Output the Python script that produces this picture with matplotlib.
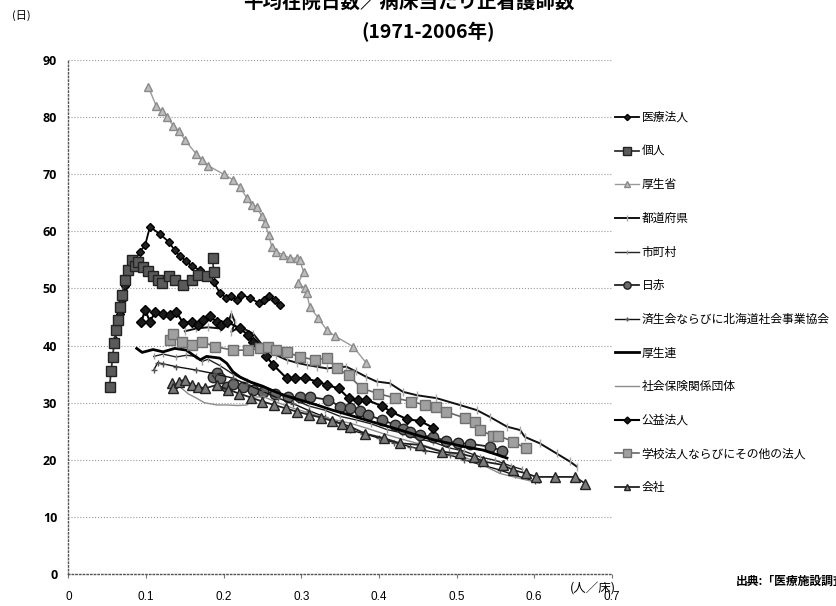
import matplotlib
matplotlib.use("Agg")
import matplotlib.pyplot as plt
from matplotlib.ticker import MultipleLocator

plt.rcParams['font.family'] = ['Noto Sans CJK JP', 'DejaVu Sans']

# ---------------- data (nurses per bed, average length of stay in days) ----------------
labels = ['医療法人', '個人', '厚生省', '都道府県', '市町村', '日赤',
          '済生会ならびに北海道社会事業協会', '厚生連', '社会保険関係団体',
          '公益法人', '学校法人ならびにその他の法人', '会社']

iryo_x = [0.060, 0.063, 0.066, 0.069, 0.073, 0.077, 0.084, 0.092, 0.099, 0.105, 0.118, 0.129,
          0.137, 0.144, 0.152, 0.159, 0.170, 0.180, 0.187, 0.195, 0.203, 0.210, 0.217, 0.223,
          0.234, 0.245, 0.252, 0.258, 0.266, 0.273]
iryo_y = [41.0, 43.5, 45.5, 48.0, 50.5, 52.7, 54.4, 56.4, 57.6, 60.8, 59.5, 58.2,
          56.7, 55.6, 54.8, 53.9, 53.2, 52.3, 51.2, 49.2, 48.4, 48.6, 48.0, 48.9,
          48.3, 47.5, 48.0, 48.6, 47.9, 47.1]

kojin_x = [0.053, 0.055, 0.057, 0.059, 0.061, 0.064, 0.066, 0.069, 0.073, 0.077, 0.082, 0.086,
           0.090, 0.096, 0.103, 0.109, 0.115, 0.120, 0.129, 0.137, 0.148, 0.159, 0.167, 0.178,
           0.187, 0.186]
kojin_y = [32.8, 35.5, 38.0, 40.5, 42.7, 44.5, 46.8, 48.9, 51.5, 53.2, 55.0, 54.0,
           54.7, 53.8, 53.0, 52.1, 51.5, 50.9, 52.1, 51.5, 50.6, 51.5, 52.4, 52.1,
           52.9, 55.3]

koseisho_x = [0.103, 0.113, 0.120, 0.127, 0.135, 0.143, 0.150, 0.165, 0.172, 0.180, 0.200,
              0.212, 0.221, 0.230, 0.236, 0.243, 0.249, 0.253, 0.258, 0.262, 0.268, 0.277,
              0.285, 0.294, 0.298, 0.303, 0.296, 0.305, 0.307, 0.311, 0.322, 0.333, 0.343,
              0.367, 0.384]
koseisho_y = [85.3, 82.0, 81.0, 80.0, 78.5, 77.5, 76.0, 73.5, 72.5, 71.5, 70.0,
              69.0, 67.8, 65.8, 64.6, 64.3, 62.6, 61.4, 59.4, 57.3, 56.4, 55.9,
              55.3, 55.3, 55.0, 52.9, 50.9, 50.0, 49.2, 46.8, 44.8, 42.7, 41.7,
              39.8, 36.9]

todofuken_x = [0.150, 0.165, 0.180, 0.195, 0.205, 0.210, 0.215, 0.210, 0.221, 0.238, 0.255,
               0.268, 0.281, 0.294, 0.307, 0.320, 0.333, 0.346, 0.358, 0.370, 0.384, 0.397,
               0.414, 0.431, 0.449, 0.474, 0.504, 0.526, 0.543, 0.565, 0.582, 0.588, 0.607,
               0.629, 0.646, 0.655]
todofuken_y = [42.5, 43.0, 43.2, 43.0, 43.8, 45.6, 44.0, 42.4, 43.3, 42.1, 39.2,
               38.3, 37.5, 37.0, 36.6, 36.3, 36.0, 36.2, 36.3, 35.5, 34.5, 33.7,
               33.4, 31.9, 31.3, 30.8, 29.6, 28.7, 27.5, 25.8, 25.2, 24.0, 22.9,
               21.1, 19.7, 18.8]

shichoson_x = [0.110, 0.122, 0.139, 0.152, 0.165, 0.172, 0.180, 0.195, 0.212, 0.230, 0.250,
               0.270, 0.290, 0.310, 0.330, 0.350, 0.370, 0.390, 0.410, 0.430, 0.450, 0.470,
               0.490, 0.510, 0.530, 0.550, 0.570, 0.585]
shichoson_y = [38.1, 38.5, 38.0, 38.3, 38.1, 37.2, 37.6, 36.5, 35.0, 33.8, 32.6,
               31.5, 30.6, 29.4, 28.7, 27.6, 27.0, 26.3, 25.3, 24.7, 23.7, 23.1,
               22.1, 21.5, 20.5, 19.9, 18.9, 18.3]

nisseki_x = [0.186, 0.191, 0.195, 0.204, 0.212, 0.225, 0.238, 0.251, 0.266, 0.283, 0.298,
             0.311, 0.335, 0.350, 0.363, 0.376, 0.386, 0.404, 0.421, 0.431, 0.440, 0.453,
             0.470, 0.487, 0.502, 0.517, 0.543, 0.558]
nisseki_y = [34.5, 35.2, 34.3, 32.8, 33.3, 32.8, 32.2, 31.9, 31.6, 31.0, 31.0,
             31.0, 30.5, 29.3, 29.0, 28.5, 27.8, 27.0, 26.1, 25.4, 24.9, 24.3,
             24.0, 23.3, 22.9, 22.8, 22.3, 21.6]

saiseikai_x = [0.110, 0.115, 0.122, 0.139, 0.165, 0.187, 0.212, 0.230, 0.250, 0.270, 0.290,
               0.310, 0.330, 0.350, 0.363, 0.380, 0.400, 0.420, 0.440, 0.460, 0.492, 0.510,
               0.530, 0.556, 0.575, 0.601]
saiseikai_y = [35.7, 37.0, 36.8, 36.3, 35.7, 35.1, 34.3, 33.2, 32.0, 30.8, 29.8,
               28.6, 27.5, 26.4, 25.2, 24.6, 23.8, 23.0, 22.3, 21.6, 20.8, 20.0,
               19.2, 18.2, 17.3, 16.2]

koseiren_x = [0.088, 0.095, 0.109, 0.122, 0.137, 0.152, 0.161, 0.170, 0.178, 0.195, 0.204,
              0.212, 0.221, 0.235, 0.250, 0.265, 0.280, 0.300, 0.320, 0.340, 0.363, 0.385,
              0.405, 0.425, 0.447, 0.470, 0.490, 0.510, 0.534, 0.550, 0.565]
koseiren_y = [39.5, 38.8, 39.3, 38.9, 39.5, 39.2, 38.3, 37.5, 38.1, 37.8, 36.9,
              35.4, 34.5, 33.6, 32.9, 32.0, 31.2, 30.4, 29.6, 28.7, 27.8, 26.9,
              26.1, 25.3, 24.4, 23.5, 22.9, 22.3, 21.7, 21.0, 20.3]

shaho_x = [0.146, 0.155, 0.165, 0.175, 0.191, 0.205, 0.218, 0.230, 0.240, 0.252, 0.270,
           0.290, 0.310, 0.330, 0.350, 0.363, 0.385, 0.405, 0.430, 0.449, 0.470, 0.492,
           0.513, 0.535, 0.556, 0.580, 0.607]
shaho_y = [32.5, 31.5, 30.8, 30.0, 29.6, 29.6, 29.5, 29.6, 31.0, 31.0, 30.0,
           29.0, 28.2, 27.4, 26.8, 26.4, 25.5, 24.6, 23.6, 22.9, 22.0, 21.1,
           20.3, 19.0, 17.6, 16.8, 15.9]

koeki_x = [0.094, 0.099, 0.105, 0.112, 0.122, 0.131, 0.139, 0.148, 0.159, 0.167, 0.174,
           0.182, 0.191, 0.197, 0.204, 0.221, 0.232, 0.238, 0.247, 0.255, 0.264, 0.281,
           0.292, 0.305, 0.320, 0.333, 0.348, 0.361, 0.373, 0.384, 0.404, 0.416, 0.436,
           0.453, 0.470]
koeki_y = [44.2, 46.2, 44.2, 45.9, 45.6, 45.4, 45.9, 43.9, 44.2, 43.6, 44.5,
           45.1, 44.2, 43.6, 44.2, 43.0, 41.8, 40.7, 39.5, 38.1, 36.6, 34.3,
           34.3, 34.3, 33.7, 33.1, 32.5, 30.8, 30.5, 30.5, 29.4, 28.4, 27.1,
           26.8, 25.6]

gakko_x = [0.131, 0.135, 0.146, 0.159, 0.172, 0.189, 0.212, 0.232, 0.247, 0.257, 0.268,
           0.281, 0.298, 0.318, 0.333, 0.346, 0.361, 0.378, 0.399, 0.421, 0.442, 0.459,
           0.474, 0.487, 0.511, 0.524, 0.530, 0.547, 0.554, 0.573, 0.589]
gakko_y = [41.0, 42.1, 40.7, 40.1, 40.7, 39.8, 39.2, 39.2, 39.5, 39.8, 39.2,
           38.9, 38.0, 37.5, 37.8, 36.0, 34.8, 32.5, 31.6, 30.8, 30.2, 29.6,
           29.3, 28.4, 27.3, 26.7, 25.2, 24.2, 24.2, 23.2, 22.0]

kaisha_x = [0.133, 0.135, 0.142, 0.150, 0.159, 0.167, 0.176, 0.191, 0.205, 0.220, 0.235,
            0.250, 0.265, 0.280, 0.295, 0.310, 0.325, 0.340, 0.352, 0.363, 0.382, 0.406,
            0.427, 0.453, 0.481, 0.504, 0.522, 0.534, 0.560, 0.573, 0.590, 0.603, 0.627,
            0.653, 0.666]
kaisha_y = [33.4, 32.5, 33.7, 34.0, 33.1, 32.8, 32.5, 33.1, 32.3, 31.6, 30.9,
            30.2, 29.6, 29.0, 28.4, 27.9, 27.4, 26.8, 26.3, 25.8, 24.6, 23.8,
            22.9, 22.6, 21.4, 21.1, 20.5, 19.7, 19.1, 18.2, 17.6, 17.0, 17.0,
            17.0, 15.8]

xs = [iryo_x, kojin_x, koseisho_x, todofuken_x, shichoson_x, nisseki_x,
      saiseikai_x, koseiren_x, shaho_x, koeki_x, gakko_x, kaisha_x]
ys = [iryo_y, kojin_y, koseisho_y, todofuken_y, shichoson_y, nisseki_y,
      saiseikai_y, koseiren_y, shaho_y, koeki_y, gakko_y, kaisha_y]

styles = [
    dict(color='black', lw=1.3, marker='D', ms=4.5, mfc='#222222', mec='black'),
    dict(color='#333333', lw=1.3, marker='s', ms=7.5, mfc='#5a5a5a', mec='#222222'),
    dict(color='#9a9a9a', lw=1.0, marker='^', ms=6, mfc='#bdbdbd', mec='#8a8a8a'),
    dict(color='#111111', lw=1.4, marker='|', ms=6, mec='#aaaaaa'),
    dict(color='#222222', lw=1.0, marker='|', ms=4, mec='#999999'),
    dict(color='#222222', lw=1.3, marker='o', ms=7.5, mfc='#6a6a6a', mec='#222222'),
    dict(color='#111111', lw=1.0, marker='+', ms=5, mec='#555555'),
    dict(color='black', lw=2.0, marker=None),
    dict(color='#8c8c8c', lw=1.0, marker=None),
    dict(color='black', lw=1.5, marker='D', ms=5, mfc='#1a1a1a', mec='black'),
    dict(color='#666666', lw=1.2, marker='s', ms=7.5, mfc='#a0a0a0', mec='#707070'),
    dict(color='#222222', lw=1.3, marker='^', ms=7, mfc='#7a7a7a', mec='#222222'),
]

fig = plt.figure(figsize=(8.37, 6.06), dpi=100)
ax = fig.add_axes([0.0817, 0.0528, 0.6492, 0.8482])

for x, y, lab, st in zip(xs, ys, labels, styles):
    ax.plot(x, y, label=lab, **st)

ax.set_xlim(0, 0.7)
ax.set_ylim(0, 90)
ax.xaxis.set_major_locator(MultipleLocator(0.1))
ax.yaxis.set_major_locator(MultipleLocator(10))
ax.set_xticks([0, 0.1, 0.2, 0.3, 0.4, 0.5, 0.6, 0.7])
ax.set_xticklabels(['0', '0.1', '0.2', '0.3', '0.4', '0.5', '0.6', '0.7'],
                   family=['Liberation Sans Narrow', 'Liberation Sans', 'DejaVu Sans'], fontsize=8.5)
for t in ax.get_yticklabels():
    t.set_fontsize(9)
    t.set_fontweight('bold')
    t.set_family(['Open Sans', 'DejaVu Sans'])

ax.grid(axis='y', color='#999999', linestyle=':', linewidth=0.8)
for s in ['top', 'right']:
    ax.spines[s].set_visible(False)
for s in ['left', 'bottom']:
    ax.spines[s].set_linestyle(':')
    ax.spines[s].set_color('#555555')
    ax.spines[s].set_linewidth(1.0)
ax.tick_params(axis='x', length=3, color='#777777', pad=9)
ax.tick_params(axis='y', length=0, pad=8)

fig.legend(loc='upper left', bbox_to_anchor=(615 / 837, 1 - 111 / 606),
           frameon=False, fontsize=8.5, labelspacing=1.75, handlelength=2.0,
           handletextpad=0.25, borderpad=0, borderaxespad=0, markerscale=0.7)

fig.text(0.488, 0.997, '平均在院日数／病床当たり正看護師数', ha='center', va='center',
         fontsize=14, fontweight='bold')
fig.text(0.511, 0.947, '(1971-2006年)', ha='center', va='center',
         fontsize=14, fontweight='bold')
fig.text(0.025, 0.975, '(日)', ha='center', va='center', fontsize=8)
fig.text(0.708, 0.028, '(人／床)', ha='center', va='center', fontsize=9)
fig.text(0.879, 0.04, '出典:「医療施設調査」', ha='left', va='center', fontsize=8.5,
         fontweight='bold')

fig.savefig('out.png', dpi=100)
